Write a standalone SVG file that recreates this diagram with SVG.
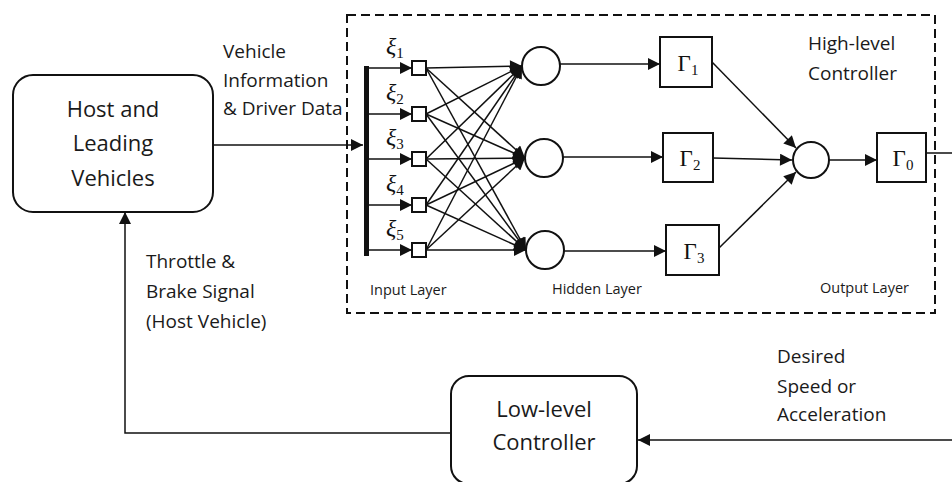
<svg xmlns="http://www.w3.org/2000/svg" width="952" height="482" viewBox="0 0 952 482">
<style>
  .lbl { font-family: "Open Sans", "Liberation Sans", sans-serif; fill: #1a1a1a; }
  .big { font-size: 22px; }
  .mid { font-size: 19px; }
  .small { font-size: 14.5px; }
  .box { fill: #fff; stroke: #111; stroke-width: 2; }
  .node { fill: #fff; stroke: #111; stroke-width: 2; }
  .edge { fill: none; stroke: #111; stroke-width: 1.5; marker-end: url(#ah); }
  .math { font-family: "Liberation Serif", "DejaVu Serif", serif; fill: #111; }
  .xi { font-size: 24px; font-style: italic; }
  .gam { font-size: 23px; }
  .sub { font-size: 15px; font-style: normal; }
</style>
<defs>
  <marker id="ah" viewBox="0 0 10 10" refX="10" refY="5" markerWidth="14" markerHeight="12" markerUnits="userSpaceOnUse" orient="auto">
    <path d="M0,0 L10,5 L0,10 z" fill="#111"/>
  </marker>
</defs>
<rect width="952" height="482" fill="#fff"/>

<g id="high-level-controller">
  <rect x="347" y="15" width="588" height="298" fill="none" stroke="#111" stroke-width="2" stroke-dasharray="9 5"/>
  <text class="lbl mid" x="808" y="50">High-level</text>
  <text class="lbl mid" x="808" y="80">Controller</text>
  <text class="lbl small" x="370" y="295">Input Layer</text>
  <text class="lbl small" x="552" y="294">Hidden Layer</text>
  <text class="lbl small" x="820" y="293">Output Layer</text>
</g>

<g id="host">
  <rect class="box" x="13" y="75" width="200" height="137" rx="20"/>
  <text class="lbl big" x="113" y="117" text-anchor="middle">Host and</text>
  <text class="lbl big" x="113" y="151" text-anchor="middle">Leading</text>
  <text class="lbl big" x="113" y="186" text-anchor="middle">Vehicles</text>
</g>

<g id="low-level">
  <rect class="box" x="451" y="376" width="186" height="108" rx="18"/>
  <text class="lbl big" x="544" y="417" text-anchor="middle">Low-level</text>
  <text class="lbl big" x="544" y="450" text-anchor="middle">Controller</text>
</g>

<g id="input-bar">
  <rect x="364" y="66" width="5" height="190" fill="#111"/>
</g>

<g id="inputs">
  <g id="in1"><rect class="node" x="412" y="61" width="14" height="14"/><text class="math xi" x="386" y="54">ξ<tspan class="sub" dy="4">1</tspan></text></g>
  <g id="in2"><rect class="node" x="412" y="107" width="14" height="14"/><text class="math xi" x="386" y="100">ξ<tspan class="sub" dy="4">2</tspan></text></g>
  <g id="in3"><rect class="node" x="412" y="152" width="14" height="14"/><text class="math xi" x="386" y="145">ξ<tspan class="sub" dy="4">3</tspan></text></g>
  <g id="in4"><rect class="node" x="412" y="198" width="14" height="14"/><text class="math xi" x="386" y="191">ξ<tspan class="sub" dy="4">4</tspan></text></g>
  <g id="in5"><rect class="node" x="412" y="243" width="14" height="14"/><text class="math xi" x="386" y="236">ξ<tspan class="sub" dy="4">5</tspan></text></g>
</g>

<g id="hidden">
  <circle id="h1" class="node" cx="541" cy="66" r="19"/>
  <circle id="h2" class="node" cx="544" cy="158" r="19"/>
  <circle id="h3" class="node" cx="545" cy="250" r="19"/>
</g>

<g id="gammas">
  <g id="g1"><rect class="node" x="660" y="37" width="52" height="50"/><text class="math gam" x="688" y="71" text-anchor="middle">Γ<tspan class="sub" dy="4">1</tspan></text></g>
  <g id="g2"><rect class="node" x="663" y="133" width="50" height="49"/><text class="math gam" x="690" y="166" text-anchor="middle">Γ<tspan class="sub" dy="4">2</tspan></text></g>
  <g id="g3"><rect class="node" x="666" y="225" width="53" height="50"/><text class="math gam" x="694" y="259" text-anchor="middle">Γ<tspan class="sub" dy="4">3</tspan></text></g>
</g>

<g id="output">
  <circle class="node" cx="811" cy="160" r="18"/>
</g>

<g id="g0">
  <rect class="node" x="877" y="133" width="49" height="49"/>
  <text class="math gam" x="903" y="166" text-anchor="middle">Γ<tspan class="sub" dy="4">0</tspan></text>
</g>

<g id="connectors">
  <path class="edge" d="M213,145 H363"/>
  <path class="edge" d="M369,68 H412"/>
  <path class="edge" d="M369,114 H412"/>
  <path class="edge" d="M369,159 H412"/>
  <path class="edge" d="M369,205 H412"/>
  <path class="edge" d="M369,250 H412"/>

  <path class="edge" d="M426,68 L522,66"/>
  <path class="edge" d="M426,68 L525,158"/>
  <path class="edge" d="M426,68 L526,250"/>
  <path class="edge" d="M426,114 L522,66"/>
  <path class="edge" d="M426,114 L525,158"/>
  <path class="edge" d="M426,114 L526,250"/>
  <path class="edge" d="M426,159 L522,66"/>
  <path class="edge" d="M426,159 L525,158"/>
  <path class="edge" d="M426,159 L526,250"/>
  <path class="edge" d="M426,205 L522,66"/>
  <path class="edge" d="M426,205 L525,158"/>
  <path class="edge" d="M426,205 L526,250"/>
  <path class="edge" d="M426,250 L522,66"/>
  <path class="edge" d="M426,250 L525,158"/>
  <path class="edge" d="M426,250 L526,250"/>

  <path class="edge" d="M560,64 H660"/>
  <path class="edge" d="M563,157 H663"/>
  <path class="edge" d="M564,251 H666"/>

  <path class="edge" d="M712,62 L796,148"/>
  <path class="edge" d="M713,158 L792,160"/>
  <path class="edge" d="M719,248 L796,172"/>

  <path class="edge" d="M829,160 H877"/>

  <path class="edge" d="M926,153 H962 V440 H638"/>
  <path class="edge" d="M451,433 H125 V212"/>

  <text class="lbl mid" x="223" y="58">Vehicle</text>
  <text class="lbl mid" x="223" y="87">Information</text>
  <text class="lbl mid" x="223" y="115">&amp; Driver Data</text>
  <text class="lbl mid" x="146" y="268">Throttle &amp;</text>
  <text class="lbl mid" x="146" y="298">Brake Signal</text>
  <text class="lbl mid" x="146" y="328">(Host Vehicle)</text>
  <text class="lbl mid" x="777" y="363">Desired</text>
  <text class="lbl mid" x="777" y="393">Speed or</text>
  <text class="lbl mid" x="777" y="421">Acceleration</text>
</g>
</svg>
